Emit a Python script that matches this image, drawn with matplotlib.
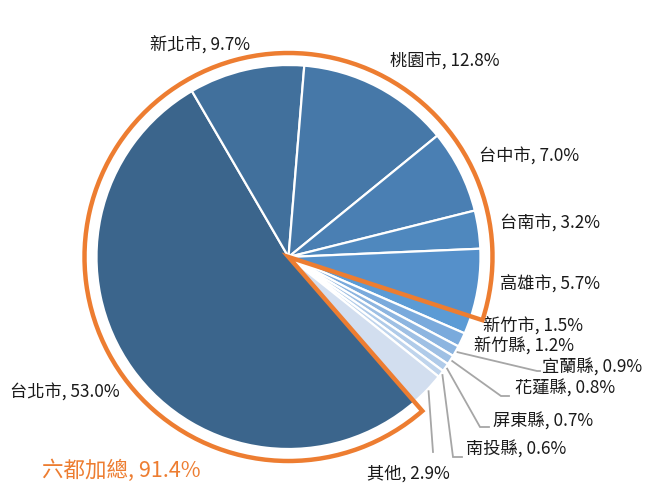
import numpy as np
import matplotlib
matplotlib.use("Agg")
import matplotlib.pyplot as plt
from matplotlib.patches import Wedge

plt.rcParams['font.family'] = ['Noto Sans CJK TC', 'DejaVu Sans']

categories = ['台北市', '新北市', '桃園市', '台中市', '台南市', '高雄市',
              '新竹市', '新竹縣', '宜蘭縣', '花蓮縣', '屏東縣', '南投縣', '其他']
values = [53.0, 9.7, 12.8, 7.0, 3.2, 5.7, 1.5, 1.2, 0.9, 0.8, 0.7, 0.6, 2.9]
colors = ['#3B658C', '#41709C', '#4678A8', '#4A7FB3', '#4F88BE', '#5590CA',
          '#5B9BD5', '#7AAADC', '#8DB5E0', '#9FC0E4', '#B0CBE9', '#BFD4EC', '#D2DEEF']
six_label = '六都加總, 91.4%'
six_count = 6

W, H = 652, 500
fig = plt.figure(figsize=(W / 100, H / 100), dpi=100)
ax = fig.add_axes([0, 0, 1, 1])

cx, cy = 288.5, H - 257
R = 192
start = -49

wedges, _ = ax.pie(values, colors=colors, startangle=start, counterclock=False,
                   radius=R, center=(cx, cy),
                   wedgeprops=dict(edgecolor='white', linewidth=1.6))
ax.set_xlim(0, W)
ax.set_ylim(0, H)
ax.set_aspect('equal')
ax.axis('off')

# orange outline around the six municipalities
tot = sum(values)
six_sum = sum(values[:six_count])
end_ang = start - six_sum / tot * 360
ax.add_patch(Wedge((cx, cy), 204, end_ang, start, fill=False,
                   edgecolor='#ED7D31', linewidth=3.2, joinstyle='miter', zorder=5))

# label positions (left x, center y in image pixels)
label_pos = [(10, 393), (150, 45), (390, 62), (479, 157), (500, 224), (500, 284),
             (483, 326), (474, 346), (542, 368), (515, 389), (493, 422), (466, 450),
             (367, 474)]
# leader lines for the small slices: (bend x, bend y, end x) in image pixels
leaders = {8: (537, 371, 540), 9: (501, 396, 509), 10: (480, 427, 489),
           11: (453, 457, 462), 12: (433, 452, 433)}

cum = 0
for i, (cat, v) in enumerate(zip(categories, values)):
    mid = start - (cum + v / 2) / tot * 360
    cum += v
    lx, ly = label_pos[i]
    ax.text(lx, H - ly, f'{cat}, {v:.1f}%', fontsize=12.4, color='#1a1a1a',
            ha='left', va='center')
    if i in leaders:
        bx, by, ex = leaders[i]
        sx = cx + (R + 2) * np.cos(np.radians(mid))
        sy = cy + (R + 2) * np.sin(np.radians(mid))
        ax.plot([sx, bx, ex], [sy, H - by, H - by], color='#A6A6A6', lw=1.3,
                solid_joinstyle='miter')

ax.text(42, H - 471, six_label, fontsize=15.5, color='#ED7D31', ha='left', va='center')

fig.savefig('out.png', dpi=100, facecolor='white')
